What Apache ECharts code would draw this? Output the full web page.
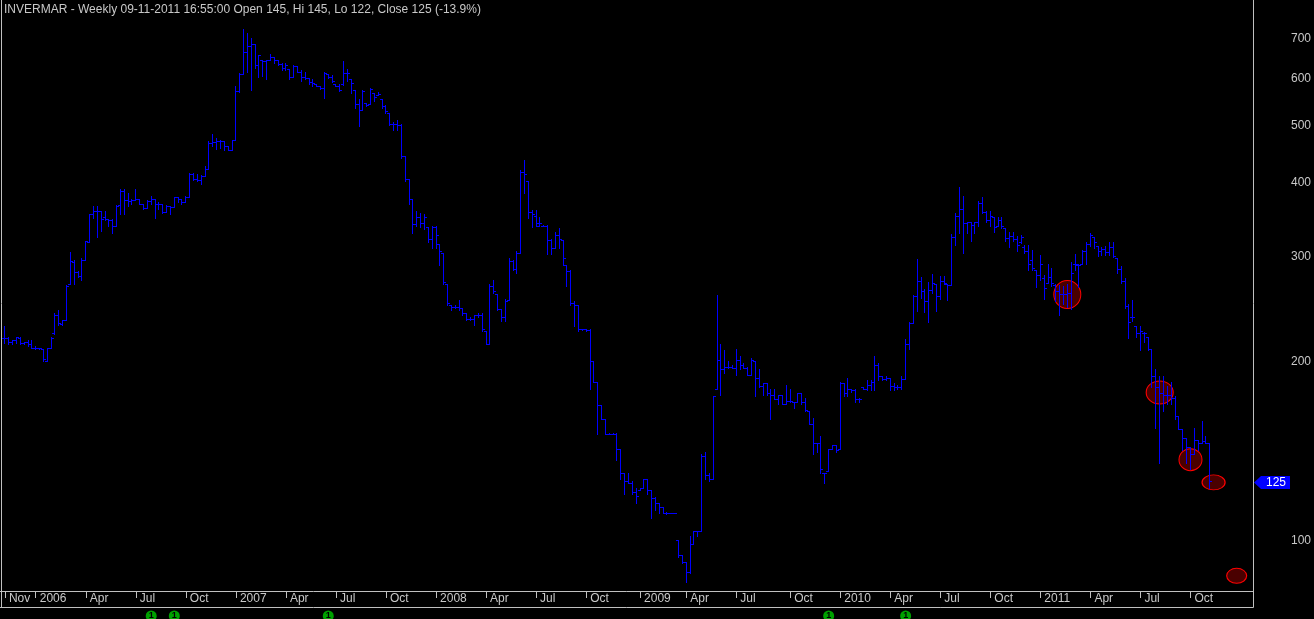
<!DOCTYPE html>
<html><head><meta charset="utf-8">
<script src="https://cdn.jsdelivr.net/npm/echarts@6/dist/echarts.min.js"></script>
<style>html,body{margin:0;padding:0;background:#000;overflow:hidden}#c{width:1314px;height:619px}</style>
</head><body><div id="c"></div>
<script>
// ---- data (weekly OHLC, INVERMAR) ----
const firstWeek = '2005-11-09';
const futureWeeks = 11;
const opens = [
218,218,215,216,218,214,215,213,210,210,
209,199,210,222,238,230,234,269,293,282,
277,295,316,352,356,356,348,346,344,337,
365,386,372,370,372,373,367,361,370,373,
366,366,355,363,362,376,373,369,377,412,
403,402,409,420,464,466,467,468,459,452,
469,567,606,660,675,682,627,641,638,640,
648,640,630,620,619,600,625,612,600,597,
588,584,578,575,607,600,584,580,583,610,
595,570,540,527,542,540,564,558,550,535,
521,500,500,498,442,403,373,339,348,340,
335,320,335,314,303,269,248,246,246,245,
240,235,235,238,238,224,213,267,258,244,
236,253,294,285,303,414,400,355,350,340,
337,337,319,309,325,319,289,283,250,248,
226,226,225,199,184,168,159,150,150,150,142,
129,125,124,120,121,122,126,121,117,115,
113,110.5,110.5,110.5,99.6,94,91.5,88,98,103,
103,138,128,126,179,200,193,195,195,194,
200,196,194,189,199,187,181,183,176,175,
172,175,169,171,170,170,176,170,164,156,
145,145,129,130,142,144,142,183,176,179,
178,172,180,179,182,184,196,188,186,
187,181,180,180,186,213,231,256,272,262,
252,263,269,256,272,269,268,322,350,360,
340,342,338,342,368,355,345,349,336,345,
334,321,324,320,316,310,305,295,284,278,
275,270,276,268,262,258,258,260,290,289,
290,305,314,323,311,305,308,304,310,297,
285,272,247,236,228,222,222,219,209,188,
180,176,175,175,173,161,153,148,143,139,
147,145,146,145
];
const highs = [
228,219,216,219,219,215,216,216,211,210,
209,210,219,240,243,234,268,304,295,283,
297,318,353,364,363,356,356,346,346,365,
388,388,383,374,388,374,367,372,378,373,
369,366,365,363,376,376,374,378,413,413,
412,410,425,467,480,474,470,468,459,470,
580,608,722,712,697,682,654,641,641,656,
648,640,632,632,619,628,625,616,612,597,
595,584,578,612,607,605,584,584,638,618,
595,570,550,570,542,574,564,566,550,538,
521,504,508,500,442,403,373,357,354,352,
335,336,336,314,303,269,248,248,253,245,
240,236,238,240,240,224,269,273,258,244,
254,297,295,305,418,435,400,358,358,348,
338,338,320,329,334,319,289,284,252,248,
226,226,226,199,184,168,159,151,151,151,142,
129,129,125,122,122,126,126,121,117.5,115,
113,111,110.5,110.5,99.6,94,91.5,101,103,103,
139,140,129,174,257,213,208,199,196,209,
203,198,195,202,199,193,183,183,179,179,
175,175,182,179,170,176,176,173,164,160,
145,149,129,142,144,144,184,183,187,179,
179,173,180,185,185,203,198,188,188,
187,183,182,188,217,232,257,296,276,264,
271,279,269,277,277,269,326,354,391,378,
342,342,342,371,376,356,356,349,348,348,
334,329,329,324,325,312,312,307,284,301,
278,290,286,269,268,267,269,293,302,290,
307,316,327,323,311,310,311,316,316,297,
288,275,249,253,228,228,223,219,209,193,
188,188,181,184,174,161,153,148,143,154,
147,158,149,145
];
const lows = [
214,213,213,214,213,213,211,210,209,209,
199,199,210,221,229,229,234,269,269,276,
273,295,316,347,322,330,344,337,328,337,
352,352,363,366,372,366,360,361,366,347,
360,354,355,352,362,369,366,369,376,402,
400,396,409,420,458,453,455,451,451,451,
469,566,606,612,570,621,600,602,596,640,
633,627,616,616,596,600,611,590,596,584,
578,578,573,553,597,588,578,568,581,591,
563,532,496,527,535,540,547,558,532,522,
498,488,488,438,400,367,328,337,335,332,
316,309,309,289,269,248,243,245,243,238,
234,234,229,236,224,213,213,260,243,233,
233,253,284,280,303,382,347,335,337,337,
336,302,302,309,309,289,267,248,228,224,
225,224,179,184,150,159,150,150,150,136,126,
119,124,119,115,121,122,119,108.5,112,110.5,
110.5,110,110.5,110.5,93.3,91.2,84.5,87.7,98,101,
103,126,125,126,179,175,190,194,194,189,
193,194,189,189,174,180,175,175,159,172,
169,169,169,170,166,170,169,164,156,139,
140,129,124,130,142,140,142,174,174,177,
170,170,179,178,178,178,185,185,185,
178,178,179,179,186,209,231,242,255,241,
232,260,242,254,269,253,268,312,327,303,
328,318,328,336,354,342,336,329,336,334,
318,310,318,305,315,303,284,284,266,273,
254,270,267,252,238,249,246,244,284,266,
290,290,311,309,299,301,301,301,298,280,
270,245,218,233,219,208,215,208,180,154,
134,164,169,169,159,153,141,134,131,139,
141,145,145,122
];
const closes = [
218,215,216,219,214,215,213,210,210,210,
201,210,218,238,231,234,267,294,282,277,
295,317,352,357,356,346,346,345,337,364,
386,372,370,372,373,367,361,370,373,366,
366,355,363,362,376,373,369,377,412,403,
402,409,420,464,466,467,468,459,452,469,
567,606,660,675,682,627,652,638,640,648,
640,630,620,628,600,625,612,600,598,588,
585,580,575,610,600,590,580,570,610,610,
585,540,527,567,538,572,555,562,535,525,
500,500,498,442,403,373,339,348,340,348,
320,335,325,305,271,250,246,246,245,240,
235,235,238,238,226,213,267,262,244,236,
252,294,285,303,414,412,355,352,337,340,
337,319,309,325,320,297,283,250,248,226,
226,225,199,184,168,159,150,150,150,142,129,
125,124,120,118,122,126,121,117,115,113,
110.5,110.5,110.5,110.5,94,91.5,88,98,103,103,
138,128,126,174,200,193,195,195,194,200,
196,194,189,200,187,181,183,176,175,172,
175,169,171,171,170,176,170,165,156,145,
145,131,129,142,144,141,183,176,179,178,
172,172,179,182,184,196,188,186,187,
181,180,180,186,213,231,256,272,262,252,
263,270,256,272,270,268,322,350,360,340,
342,338,342,368,355,345,350,335,345,336,
321,324,320,312,322,305,290,286,278,290,
265,276,270,262,258,258,260,280,290,289,
305,314,325,316,305,308,304,310,300,285,
272,247,232,236,222,224,222,209,188,180,
176,175,175,173,161,153,148,143,139,147,
145,146,145,125
];
const yTicks = [100, 200, 300, 400, 500, 600, 700];
const lastClose = 125;
const titleText = 'INVERMAR - Weekly 09-11-2011 16:55:00 Open 145, Hi 145, Lo 122, Close 125 (-13.9%)';
// red marker ellipses: [week index, price]
const redMarks = [[276, 258], [300, 176.5], [308, 136], [314, 124.5], [320, 86.7]];
// green signal markers under the date axis (week indices)
const signalWeeks = [38, 44, 84, 214, 234];
const monthNames = ['Jan','Feb','Mar','Apr','May','Jun','Jul','Aug','Sep','Oct','Nov','Dec'];

// ---- categories (weeks) ----
const nBars = closes.length;
const cats = [];
const labelText = {};
{
  const d0 = new Date(firstWeek + 'T12:00:00Z');
  let prevMonth = -1;
  for (let i = 0; i < nBars + futureWeeks; i++) {
    const d = new Date(d0.getTime() + i * 7 * 86400000);
    const m = d.getUTCMonth(), y = d.getUTCFullYear();
    cats.push(y + '-' + String(m + 1).padStart(2, '0') + '-' + String(d.getUTCDate()).padStart(2, '0'));
    if (i < nBars) {
      if (i === 0) labelText[i] = monthNames[m];
      else if (m !== prevMonth && m % 3 === 0) labelText[i] = (m === 0 ? String(y) : monthNames[m]);
    }
    prevMonth = m;
  }
}
const ohlc = closes.map((c, i) => [i, opens[i], highs[i], lows[i], c]);

// ---- styles ----
const FONT = '"Liberation Sans", Arial, sans-serif';
const TXT = '#c8c8c8';
const FRAME = '#c0c0c0';
const BLUE = '#0000ff';
const redSizes = [[27, 28], [27, 23], [23, 22], [23, 15], [20, 15]];

const chart = echarts.init(document.getElementById('c'), null, {renderer: 'canvas'});
const isLabel = (i) => labelText[i] !== undefined;
chart.setOption({
  backgroundColor: '#000',
  animation: false,
  grid: {left: 3, top: 0, width: 1251, height: 591, containLabel: false},
  xAxis: {
    type: 'category', data: cats, boundaryGap: true,
    axisLine: {show: false},
    axisTick: {show: true, alignWithLabel: true, interval: (i) => isLabel(i), length: 7, lineStyle: {color: FRAME, width: 1}},
    axisLabel: {show: true, interval: (i) => isLabel(i), formatter: (v, i) => labelText[i] || '',
      align: 'left', padding: [0, 0, 0, 4], margin: 2, color: TXT, fontSize: 12, fontFamily: FONT},
    splitLine: {show: false}
  },
  yAxis: {
    type: 'log', logBase: 10, min: 81.74, max: 808, position: 'right',
    axisLine: {show: false}, axisTick: {show: false}, axisLabel: {show: false}, splitLine: {show: false}
  },
  series: [
    {
      type: 'scatter', z: 1, clip: false, silent: true,
      symbol: 'circle',
      data: redMarks.map((m, k) => ({value: m, symbolSize: redSizes[k]})),
      itemStyle: {color: '#4a0000', borderColor: '#ff0000', borderWidth: 1, opacity: 1}
    },
    {
      type: 'custom', z: 2, silent: true,
      data: ohlc,
      encode: {x: 0, y: [1, 2, 3, 4]},
      renderItem: (params, api) => {
        const i = api.value(0);
        const pO = api.coord([i, api.value(1)]);
        const pH = api.coord([i, api.value(2)]);
        const pL = api.coord([i, api.value(3)]);
        const pC = api.coord([i, api.value(4)]);
        const x = Math.round(pH[0] - 0.5);
        const yH = Math.round(pH[1]), yL = Math.round(pL[1]);
        return {type: 'group', children: [
          {type: 'rect', shape: {x: x, y: yH, width: 1, height: Math.max(1, yL - yH + 1)}, style: {fill: BLUE}},
          {type: 'rect', shape: {x: x - 2, y: Math.round(pO[1]), width: 2, height: 1}, style: {fill: BLUE}},
          {type: 'rect', shape: {x: x + 1, y: Math.round(pC[1]), width: 2, height: 1}, style: {fill: BLUE}}
        ]};
      }
    }
  ]
});

// ---- overlays positioned through the chart's own scales ----
const gfx = [];
// frame
gfx.push({type: 'line', shape: {x1: 1.5, y1: 0, x2: 1.5, y2: 607}, style: {stroke: FRAME, lineWidth: 1}, silent: true});
gfx.push({type: 'line', shape: {x1: 1253.5, y1: 0, x2: 1253.5, y2: 607.5}, style: {stroke: FRAME, lineWidth: 1}, silent: true});
gfx.push({type: 'line', shape: {x1: 0, y1: 591.5, x2: 1253.5, y2: 591.5}, style: {stroke: FRAME, lineWidth: 1}, silent: true});
gfx.push({type: 'line', shape: {x1: 0, y1: 607.5, x2: 1253.5, y2: 607.5}, style: {stroke: FRAME, lineWidth: 1}, silent: true});
// title
gfx.push({type: 'text', x: 4, y: 9.5, silent: true,
  style: {text: titleText, fill: TXT, font: '12px ' + FONT, verticalAlign: 'middle', align: 'left'}});
// price scale labels
yTicks.forEach(v => {
  const y = chart.convertToPixel({yAxisIndex: 0}, v);
  gfx.push({type: 'text', x: 1311, y: y + 1.5, silent: true,
    style: {text: String(v), fill: TXT, font: '12px ' + FONT, align: 'right', verticalAlign: 'middle'}});
});
// last price flag
{
  const y = chart.convertToPixel({yAxisIndex: 0}, lastClose) + 1;
  gfx.push({type: 'polygon', silent: true,
    shape: {points: [[1254, y], [1261, y - 6.5], [1290, y - 6.5], [1290, y + 6.5], [1261, y + 6.5]]},
    style: {fill: BLUE}});
  gfx.push({type: 'text', x: 1276, y: y + 0.5, silent: true,
    style: {text: String(lastClose), fill: '#ffffff', font: '12px ' + FONT, align: 'center', verticalAlign: 'middle'}});
}
// green signal markers under the axis
signalWeeks.forEach(w => {
  const x = chart.convertToPixel({xAxisIndex: 0}, w);
  gfx.push({type: 'circle', silent: true, shape: {cx: x, cy: 616, r: 5.5}, style: {fill: '#00a000'}});
  gfx.push({type: 'text', x: x, y: 616, silent: true,
    style: {text: '1', fill: '#000', font: 'bold 9px ' + FONT, align: 'center', verticalAlign: 'middle'}});
});
chart.setOption({graphic: {elements: gfx}});
</script>
</body></html>
